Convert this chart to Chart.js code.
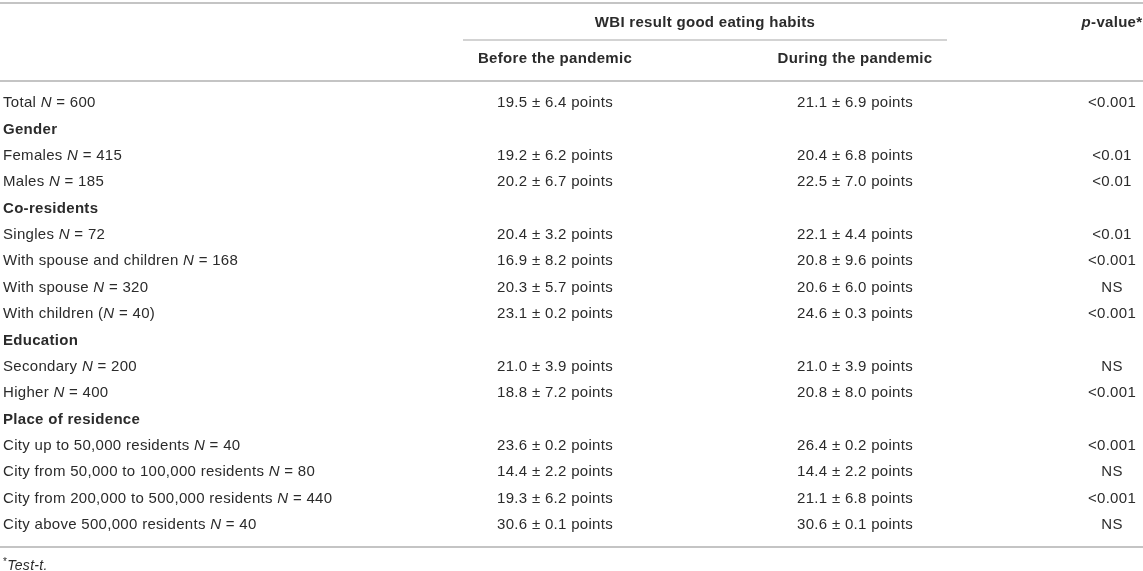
<!DOCTYPE html>
<html>
<head>
<meta charset="utf-8">
<title>WBI result good eating habits</title>
<script src="https://cdn.jsdelivr.net/npm/chart.js@4/dist/chart.umd.min.js"></script>
<style>
  html, body { margin: 0; padding: 0; background: #fff; }
  #wrap { width: 1143px; height: 571px; position: relative; }
</style>
</head>
<body>
<div id="wrap"><canvas id="tabla"></canvas></div>
<script>
// filas de la tabla (las que no tienen valores son titulos de seccion)
const rowLabels = [
  'Total N = 600', 'Gender', 'Females N = 415', 'Males N = 185',
  'Co-residents', 'Singles N = 72', 'With spouse and children N = 168',
  'With spouse N = 320', 'With children (N = 40)', 'Education',
  'Secondary N = 200', 'Higher N = 400', 'Place of residence',
  'City up to 50,000 residents N = 40', 'City from 50,000 to 100,000 residents N = 80',
  'City from 200,000 to 500,000 residents N = 440', 'City above 500,000 residents N = 40'
]
const beforeMean = [19.5, null, 19.2, 20.2, null, 20.4, 16.9, 20.3, 23.1, null, 21.0, 18.8, null, 23.6, 14.4, 19.3, 30.6]
const beforeSD   = [6.4, null, 6.2, 6.7, null, 3.2, 8.2, 5.7, 0.2, null, 3.9, 7.2, null, 0.2, 2.2, 6.2, 0.1]
const duringMean = [21.1, null, 20.4, 22.5, null, 22.1, 20.8, 20.6, 24.6, null, 21.0, 20.8, null, 26.4, 14.4, 21.1, 30.6]
const duringSD   = [6.9, null, 6.8, 7.0, null, 4.4, 9.6, 6.0, 0.3, null, 3.9, 8.0, null, 0.2, 2.2, 6.8, 0.1]
const pValues = ['<0.001', '', '<0.01', '<0.01', '', '<0.01', '<0.001', 'NS', '<0.001', '', 'NS', '<0.001', '', '<0.001', 'NS', '<0.001', 'NS']

const groupHeader = 'WBI result good eating habits'
const colHeaders = ['Before the pandemic', 'During the pandemic']
const footnote = 'Test-t.'

// posiciones de columnas (eje x) y de filas especiales (eje y, en unidades de fila)
const colX = { label: 3, before: 555, during: 855, p: 1112, groupL: 463, groupR: 947, groupC: 705, right: 1143 }
const rowY = { topRule: -3.79, head1: -3.03, groupRule: -2.39, head2: -1.67, midRule: -0.83, bottomRule: 16.83, note: 17.55 }

const FAM = '"Liberation Sans", Arial, Helvetica, sans-serif'
const SIZE = 15
const TXT = '#2b2b2b'
const RULE = '#c4c4c4'

const fmt = (m, s) => m == null ? '' : `${m.toFixed(1)} \u00b1 ${s.toFixed(1)} points`
const isSection = (i) => beforeMean[i] == null

const beforeText = beforeMean.map((m, i) => fmt(m, beforeSD[i]))
const duringText = duringMean.map((m, i) => fmt(m, duringSD[i]))

// puntos invisibles: cada celda es un punto del scatter
const cellData = (xCol) => rowLabels.map((_, i) => ({ x: xCol, y: i }))

//dibuja texto con partes de distinto estilo
function drawRich(ctx, parts, x, y, align) {
  ctx.letterSpacing = '0.3px'
  let total = 0
  parts.forEach(p => { ctx.font = p.font; total += ctx.measureText(p.t).width })
  let cx = align === 'center' ? x - total / 2 : align === 'right' ? x - total : x
  parts.forEach(p => {
    ctx.font = p.font
    ctx.fillText(p.t, cx + (p.dx || 0), y + (p.dy || 0))
    cx += ctx.measureText(p.t).width
  })
}

function font(style, size) {
  return `${style} ${size || SIZE}px ${FAM}`
}

function labelParts(txt, bold) {
  if (bold) return [{ t: txt, font: font('bold') }]
  return txt.split(/(\bN\b)/).filter(s => s !== '').map(s => ({
    t: s, font: s === 'N' ? font('italic') : font('normal')
  }))
}

const tablePlugin = {
  id: 'tablaTexto',
  afterDraw(chart) {
    const ctx = chart.ctx
    const x = chart.scales.x
    const y = chart.scales.y
    ctx.save()
    ctx.fillStyle = TXT
    ctx.textBaseline = 'middle'

    // lineas horizontales
    ctx.strokeStyle = RULE
    const hline = (x0, x1, yy, w) => {
      ctx.lineWidth = w
      ctx.beginPath()
      ctx.moveTo(x.getPixelForValue(x0), y.getPixelForValue(yy))
      ctx.lineTo(x.getPixelForValue(x1), y.getPixelForValue(yy))
      ctx.stroke()
    }
    hline(0, colX.right, rowY.topRule, 2)
    hline(colX.groupL, colX.groupR, rowY.groupRule, 1.5)
    hline(0, colX.right, rowY.midRule, 2)
    hline(0, colX.right, rowY.bottomRule, 2)

    // encabezados
    drawRich(ctx, [{ t: groupHeader, font: font('bold') }], x.getPixelForValue(colX.groupC), y.getPixelForValue(rowY.head1), 'center')
    drawRich(ctx, [{ t: 'p', font: font('italic bold') }, { t: '-value*', font: font('bold') }],
      x.getPixelForValue(colX.p), y.getPixelForValue(rowY.head1), 'center')
    drawRich(ctx, [{ t: colHeaders[0], font: font('bold') }], x.getPixelForValue(colX.before), y.getPixelForValue(rowY.head2), 'center')
    drawRich(ctx, [{ t: colHeaders[1], font: font('bold') }], x.getPixelForValue(colX.during), y.getPixelForValue(rowY.head2), 'center')

    // celdas desde los puntos de cada dataset
    chart.data.datasets.forEach((ds, d) => {
      const meta = chart.getDatasetMeta(d)
      meta.data.forEach((pt, i) => {
        const txt = ds.textos[i]
        if (!txt) return
        if (ds.tipo === 'label') {
          drawRich(ctx, labelParts(txt, isSection(i)), pt.x, pt.y, 'left')
        } else {
          drawRich(ctx, [{ t: txt, font: font('normal') }], pt.x, pt.y, 'center')
        }
      })
    })

    // nota al pie
    drawRich(ctx, [
      { t: '*', font: font('normal', 10), dy: -4 },
      { t: footnote, font: font('italic', 14) }
    ], x.getPixelForValue(colX.label), y.getPixelForValue(rowY.note), 'left')
    ctx.restore()
  }
}

const config = {
  type: 'scatter',
  data: {
    datasets: [
      { tipo: 'label', textos: rowLabels, data: cellData(colX.label), pointRadius: 0 },
      { tipo: 'num', textos: beforeText, data: cellData(colX.before), pointRadius: 0 },
      { tipo: 'num', textos: duringText, data: cellData(colX.during), pointRadius: 0 },
      { tipo: 'num', textos: pValues, data: cellData(colX.p), pointRadius: 0 }
    ]
  },
  options: {
    responsive: true,
    maintainAspectRatio: false,
    animation: false,
    layout: { padding: 0 },
    plugins: { legend: { display: false }, tooltip: { enabled: false } },
    scales: {
      x: { type: 'linear', display: false, min: 0, max: colX.right },
      y: { type: 'linear', display: false, reverse: true, min: -3.905, max: 17.744 }
    }
  },
  plugins: [tablePlugin]
}

new Chart(document.getElementById('tabla'), config)
</script>
</body>
</html>
